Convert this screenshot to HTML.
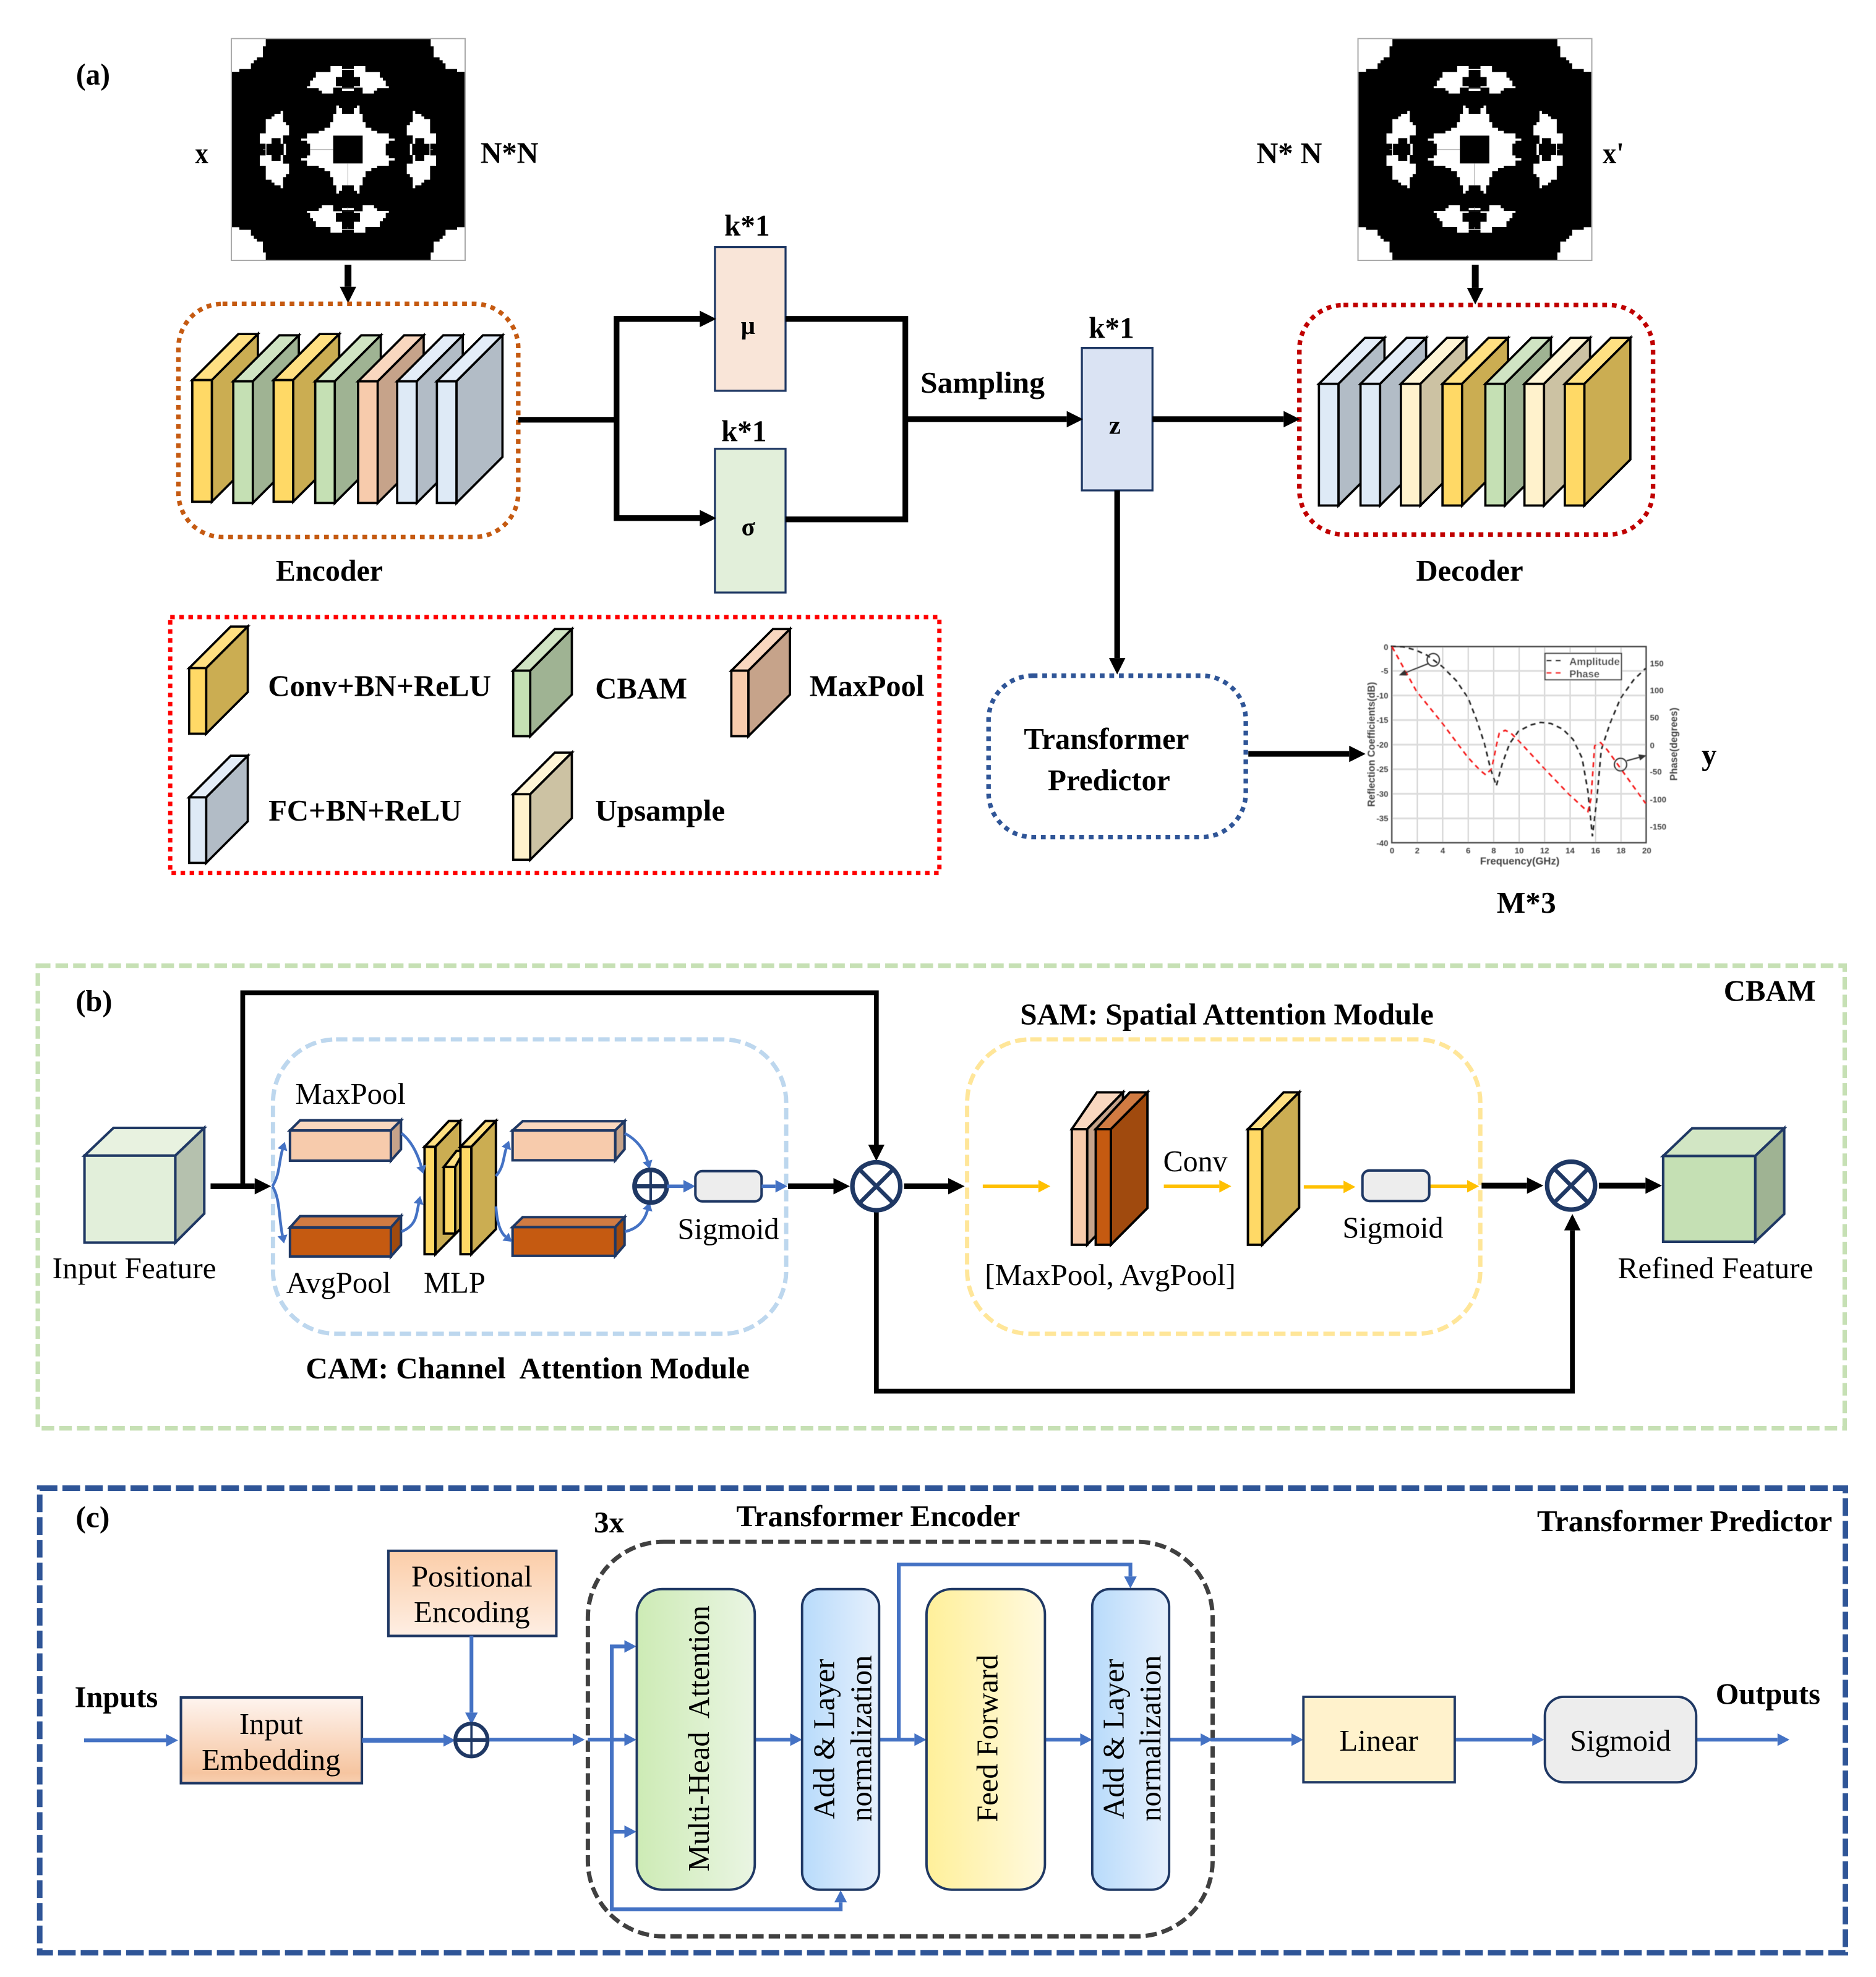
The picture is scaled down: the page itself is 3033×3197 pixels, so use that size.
<!DOCTYPE html>
<html><head><meta charset="utf-8"><style>
html,body{margin:0;padding:0;background:#fff}
svg{display:block}
text{font-family:"Liberation Serif",serif;fill:#000}
.b{font-weight:bold}
.n{font-size:24px}
.bb{font-size:24px;font-weight:bold}
.s{font-family:"Liberation Sans",sans-serif;font-weight:bold;fill:#444;font-size:6.5px}
</style></head><body>
<svg xmlns="http://www.w3.org/2000/svg" width="3033" height="3197" viewBox="0 0 1487.8 1568.25">
<defs>
<filter id="blur" x="-5%" y="-5%" width="110%" height="110%"><feGaussianBlur stdDeviation="0.28"/></filter>
<marker id="k" markerUnits="userSpaceOnUse" markerWidth="16" markerHeight="16" refX="0" refY="8" orient="auto" overflow="visible"><path d="M0,1.5 L13,8 L0,14.5Z" fill="#000"/></marker>
<marker id="h" markerUnits="userSpaceOnUse" markerWidth="12" markerHeight="12" refX="0" refY="6" orient="auto" overflow="visible"><path d="M0,1 L9.5,6 L0,11Z" fill="#4472C4"/></marker>
<marker id="m" markerUnits="userSpaceOnUse" markerWidth="10" markerHeight="10" refX="0" refY="5" orient="auto" overflow="visible"><path d="M0,1 L6.5,5 L0,9Z" fill="#4472C4"/></marker>
<marker id="o" markerUnits="userSpaceOnUse" markerWidth="12" markerHeight="12" refX="0" refY="6" orient="auto" overflow="visible"><path d="M0,1 L9.5,6 L0,11Z" fill="#FFC000"/></marker>
<marker id="t" markerUnits="userSpaceOnUse" markerWidth="8" markerHeight="8" refX="0" refY="4" orient="auto" overflow="visible"><path d="M0,1.5 L6,4 L0,6.5Z" fill="#333"/></marker>
<linearGradient id="gG"><stop offset="0" stop-color="#CDEBB5"/><stop offset="1" stop-color="#EAF5E3"/></linearGradient>
<linearGradient id="gB"><stop offset="0" stop-color="#B8DBFB"/><stop offset="1" stop-color="#E6F0FC"/></linearGradient>
<linearGradient id="gY"><stop offset="0" stop-color="#FFF09A"/><stop offset="1" stop-color="#FFF9DE"/></linearGradient>
<linearGradient id="gP1" x2="0" y2="1"><stop offset="0" stop-color="#FBCDA8"/><stop offset="1" stop-color="#FEEFE4"/></linearGradient>
<linearGradient id="gP2" x2="0" y2="1"><stop offset="0" stop-color="#FEF4EF"/><stop offset="0.88" stop-color="#F6C5A0"/><stop offset="1" stop-color="#F8D0B2"/></linearGradient>
<g id="Y" stroke="#000" stroke-width="1.8"><polygon points="0,0 36.5,-36.5 52,-36.5 15.5,0" fill="#FFE082"/><polygon points="15.5,0 52,-36.5 52,60 15.5,96.5" fill="#CBAD52"/><rect width="15.5" height="96.5" fill="#FFD966"/></g>
<g id="G" stroke="#000" stroke-width="1.8"><polygon points="0,0 36.5,-36.5 52,-36.5 15.5,0" fill="#D0E4C3"/><polygon points="15.5,0 52,-36.5 52,60 15.5,96.5" fill="#9FB393"/><rect width="15.5" height="96.5" fill="#C5E0B4"/></g>
<g id="P" stroke="#000" stroke-width="1.8"><polygon points="0,0 36.5,-36.5 52,-36.5 15.5,0" fill="#F9D7BF"/><polygon points="15.5,0 52,-36.5 52,60 15.5,96.5" fill="#C6A38A"/><rect width="15.5" height="96.5" fill="#F7CBAC"/></g>
<g id="B" stroke="#000" stroke-width="1.8"><polygon points="0,0 36.5,-36.5 52,-36.5 15.5,0" fill="#E4EDF8"/><polygon points="15.5,0 52,-36.5 52,60 15.5,96.5" fill="#B2BCC6"/><rect width="15.5" height="96.5" fill="#DEEAF6"/></g>
<g id="C" stroke="#000" stroke-width="1.8"><polygon points="0,0 36.5,-36.5 52,-36.5 15.5,0" fill="#FFF5D6"/><polygon points="15.5,0 52,-36.5 52,60 15.5,96.5" fill="#CCC2A3"/><rect width="15.5" height="96.5" fill="#FFF2CC"/></g>
<g id="LY" stroke="#000" stroke-width="1.8"><polygon points="0,0 33,-33 46.5,-33 13.5,0" fill="#FFE082"/><polygon points="13.5,0 46.5,-33 46.5,19 13.5,52" fill="#CBAD52"/><rect width="13.5" height="52" fill="#FFD966"/></g>
<g id="LG" stroke="#000" stroke-width="1.8"><polygon points="0,0 33,-33 46.5,-33 13.5,0" fill="#D0E4C3"/><polygon points="13.5,0 46.5,-33 46.5,19 13.5,52" fill="#9FB393"/><rect width="13.5" height="52" fill="#C5E0B4"/></g>
<g id="LP" stroke="#000" stroke-width="1.8"><polygon points="0,0 33,-33 46.5,-33 13.5,0" fill="#F9D7BF"/><polygon points="13.5,0 46.5,-33 46.5,19 13.5,52" fill="#C6A38A"/><rect width="13.5" height="52" fill="#F7CBAC"/></g>
<g id="LB" stroke="#000" stroke-width="1.8"><polygon points="0,0 33,-33 46.5,-33 13.5,0" fill="#E4EDF8"/><polygon points="13.5,0 46.5,-33 46.5,19 13.5,52" fill="#B2BCC6"/><rect width="13.5" height="52" fill="#DEEAF6"/></g>
<g id="LC" stroke="#000" stroke-width="1.8"><polygon points="0,0 33,-33 46.5,-33 13.5,0" fill="#FFF5D6"/><polygon points="13.5,0 46.5,-33 46.5,19 13.5,52" fill="#CCC2A3"/><rect width="13.5" height="52" fill="#FFF2CC"/></g>
<g id="topw"><polygon fill="#fff" points="484,141 540,141 540,155 597,155 597,141 653,141 653,169 723,169 723,197 738,197 738,211 752,211 752,238 767,238 767,247 710,247 710,260 695,260 695,274 640,274 640,245 497,245 497,274 442,274 442,260 427,260 427,247 370,247 370,238 385,238 385,211 399,211 399,197 413,197 413,169 484,169"/><polygon fill="#000" points="540,159 597,159 597,194 627,194 627,238 597,238 597,245 540,245 540,238 510,238 510,194 540,194"/><rect x="540" y="250" width="57" height="11" fill="#fff"/></g>
<g id="sidew"><polygon fill="#fff" points="242,358 254,358 254,412 268,412 268,427 283,427 283,477 254,477 254,518 268,518 268,573 254,573 254,614 283,614 283,664 268,664 268,679 254,679 254,733 242,733 242,719 212,719 212,706 198,706 198,692 170,692 170,624 141,624 141,574 169,574 169,517 141,517 141,467 170,467 170,398 198,398 198,385 212,385 212,372 242,372"/><polygon fill="#000" points="173,518 198,518 198,490 242,490 242,518 257,518 257,573 242,573 242,600 198,600 198,573 173,573"/><rect x="156" y="544" width="14" height="2.5" fill="#999"/></g>
<polygon id="corner" fill="#fff" points="3,7 170,7 170,45 156,45 156,98 127,98 127,112 112,112 112,127 98,127 98,155 42,155 42,168 3,168"/>
<g id="frac">
<rect x="3" y="7" width="1134" height="1076" fill="#000"/>
<use href="#corner"/><use href="#corner" transform="translate(1140,0) scale(-1,1)"/><use href="#corner" transform="translate(0,1090) scale(1,-1)"/><use href="#corner" transform="translate(1140,1090) scale(-1,-1)"/>
<rect x="3" y="7" width="1134" height="1076" fill="none" stroke="#aaa" stroke-width="6"/>
<use href="#topw"/><use href="#topw" transform="translate(0,1090) scale(1,-1)"/>
<rect x="567" y="826" width="3" height="14" fill="#999"/><rect x="567" y="922" width="3" height="14" fill="#999"/>
<use href="#sidew"/><use href="#sidew" transform="translate(1137,0) scale(-1,1)"/>
<polygon fill="#fff" points="597,372 597,345 612,345 612,332 625,332 625,372 640,372 640,412 654,412 654,440 682,440 682,455 710,455 710,467 767,467 767,492 795,492 795,503 767,503 767,517 752,517 752,574 767,574 767,588 795,588 795,599 767,599 767,624 710,624 710,636 682,636 682,651 654,651 654,679 640,679 640,719 625,719 625,759 612,759 612,746 597,746 597,719 540,719 540,746 525,746 525,759 512,759 512,719 497,719 497,679 483,679 483,651 455,651 455,636 427,636 427,624 370,624 370,599 342,599 342,588 370,588 370,574 385,574 385,517 370,517 370,503 342,503 342,492 370,492 370,467 427,467 427,455 455,455 455,440 483,440 483,412 497,412 497,372 512,372 512,332 525,332 525,345 540,345 540,372"/>
<rect x="497" y="478" width="143" height="135" fill="#000"/>
<rect x="385" y="544" width="112" height="3" fill="#999"/><rect x="567" y="613" width="3" height="106" fill="#999"/>
</g>
</defs>

<!-- Panel a -->
<text class="bb" x="60.3" y="67" textLength="27" lengthAdjust="spacingAndGlyphs">(a)</text>
<use href="#frac" transform="translate(182.97,29.43) scale(.16351)"/>
<use href="#frac" transform="translate(1076.5,29.43) scale(.16351)"/>
<text class="bb" x="154.7" y="129.5" textLength="10.5" lengthAdjust="spacingAndGlyphs">x</text>
<text class="bb" x="381" y="129.2" textLength="46" lengthAdjust="spacingAndGlyphs">N*N</text>
<text class="bb" x="996.5" y="129.5" textLength="52" lengthAdjust="spacingAndGlyphs">N* N</text>
<text class="bb" x="1271" y="129.5" textLength="17" lengthAdjust="spacingAndGlyphs">x'</text>
<path d="M276,210V227.5" stroke="#000" stroke-width="5.4" marker-end="url(#k)" fill="none"/>
<path d="M1170,210V228.5" stroke="#000" stroke-width="5.4" marker-end="url(#k)" fill="none"/>

<rect x="141.5" y="241" width="269.5" height="185" rx="35" fill="none" stroke="#C55A11" stroke-width="3.6" stroke-dasharray="3.8 3.8"/>
<rect x="1030.5" y="242" width="280.5" height="182" rx="35" fill="none" stroke="#C00000" stroke-width="3.6" stroke-dasharray="3.8 3.8"/>

<use href="#Y" x="152.5" y="301.5"/><use href="#G" x="185" y="302.5"/><use href="#Y" x="217" y="301.5"/><use href="#G" x="250" y="302.5"/><use href="#P" x="284" y="302.5"/><use href="#B" x="315" y="302.5"/><use href="#B" x="346.5" y="302.5"/>
<use href="#B" x="1046" y="304.5"/><use href="#B" x="1079" y="304.5"/><use href="#C" x="1111" y="304.5"/><use href="#Y" x="1144" y="304.5"/><use href="#G" x="1178" y="304.5"/><use href="#C" x="1209" y="304.5"/><use href="#Y" x="1241" y="304.5"/>

<text class="bb" x="218.7" y="460.5" textLength="85" lengthAdjust="spacingAndGlyphs">Encoder</text>
<text class="bb" x="1123" y="460.5" textLength="85" lengthAdjust="spacingAndGlyphs">Decoder</text>

<rect x="567" y="196" width="56" height="114" fill="#F9E5D8" stroke="#1F3864" stroke-width="1.6"/>
<rect x="567" y="356" width="56" height="114" fill="#E2EFDA" stroke="#1F3864" stroke-width="1.6"/>
<rect x="858" y="276" width="56" height="113" fill="#DAE3F3" stroke="#1F3864" stroke-width="1.6"/>
<text class="bb" x="574.5" y="187" textLength="36" lengthAdjust="spacingAndGlyphs">k*1</text>
<text class="bb" x="572" y="350" textLength="36" lengthAdjust="spacingAndGlyphs">k*1</text>
<text class="bb" x="863.5" y="268" textLength="36" lengthAdjust="spacingAndGlyphs">k*1</text>
<text class="b" style="font-size:20px" x="587.5" y="265">µ</text>
<text class="b" style="font-size:20px" x="588" y="424.5">σ</text>
<text class="b" style="font-size:21px" x="879.5" y="344">z</text>

<g fill="none" stroke="#000" stroke-width="4.5">
<path d="M411,333H489"/>
<path d="M555,253H489V411H555" />
<path d="M623,253H718V412H623"/>
<path d="M718,332.5H846" marker-end="url(#k)"/>
<path d="M914,332.5H1018" marker-end="url(#k)"/>
<path d="M886,389V522" marker-end="url(#k)"/>
<path d="M990,598H1070" marker-end="url(#k)"/>
<path d="M489,253H555" marker-end="url(#k)"/>
<path d="M489,411H555" marker-end="url(#k)"/>
</g>
<text class="bb" x="730" y="311.5" textLength="98.5" lengthAdjust="spacingAndGlyphs">Sampling</text>

<rect x="135" y="489.5" width="610" height="203" fill="none" stroke="#FF0000" stroke-width="3.4" stroke-dasharray="3.6 3.6"/>
<use href="#LY" x="150" y="530"/><use href="#LG" x="407" y="532"/><use href="#LP" x="580" y="532"/><use href="#LB" x="150" y="632.5"/><use href="#LC" x="407" y="630"/>
<text class="bb" x="212.5" y="552" textLength="177" lengthAdjust="spacingAndGlyphs">Conv+BN+ReLU</text>
<text class="bb" x="472" y="554" textLength="73" lengthAdjust="spacingAndGlyphs">CBAM</text>
<text class="bb" x="642" y="552" textLength="91" lengthAdjust="spacingAndGlyphs">MaxPool</text>
<text class="bb" x="213" y="651" textLength="153" lengthAdjust="spacingAndGlyphs">FC+BN+ReLU</text>
<text class="bb" x="472" y="651" textLength="103" lengthAdjust="spacingAndGlyphs">Upsample</text>

<rect x="784" y="536" width="204" height="128" rx="35" fill="none" stroke="#2F5597" stroke-width="3.6" stroke-dasharray="3.8 3.8"/>
<text class="bb" x="812" y="594" textLength="131" lengthAdjust="spacingAndGlyphs">Transformer</text>
<text class="bb" x="831" y="627" textLength="97" lengthAdjust="spacingAndGlyphs">Predictor</text>

<!-- Chart -->
<g filter="url(#blur)">
<g fill="none" stroke="#cfcfcf" stroke-width="0.9">
<path d="M1124,513V668M1144.2,513V668M1164.4,513V668M1184.6,513V668M1204.8,513V668M1225,513V668M1245.2,513V668M1265.4,513V668M1285.6,513V668"/>
<path d="M1104,532.2H1305M1104,551.7H1305M1104,571.2H1305M1104,590.7H1305M1104,610.2H1305M1104,629.7H1305M1104,649.2H1305" stroke="#dcdcdc" stroke-width="1.4"/>
</g>
<rect x="1103.8" y="512.9" width="201.7" height="155.6" fill="none" stroke="#444" stroke-width="1.1"/>
<polyline fill="none" stroke="#222" stroke-width="1.25" stroke-dasharray="4 3.2" points="1103,512.6 1112.8,513.1 1122.2,515.5 1131.5,519.6 1143.7,528.6 1155,540 1164.4,553.9 1171.4,571.9 1177.3,589.9 1182,609.5 1186.7,623.4 1191.3,606.2 1197.2,589.9 1204.2,580.1 1213.6,575.2 1221.8,573 1230,573.9 1239.4,578.4 1247.6,586.6 1254.7,601.3 1259.3,627.5 1262.9,663.4 1266.4,634 1269.9,594.8 1277,573.5 1285.2,553.9 1295.7,539.2 1305.1,530.2"/>
<polyline fill="none" stroke="#F51515" stroke-width="1.25" stroke-dasharray="4 3.2" points="1104,513.1 1123.3,548.2 1143.7,573.5 1163.9,600.5 1173.8,611.1 1178.4,614.7 1183.1,609.5 1186.7,591.5 1189,581.7 1193.7,579.3 1198.4,581.7 1204.2,587.4 1224.6,609.5 1244.1,629.9 1254.7,639.7 1259.3,643.8 1261.7,634 1264.7,591.5 1269.4,589.1 1274.6,594.8 1285.2,609.5 1295.7,624.2 1305.1,637.3"/>
<rect x="1225.3" y="518.3" width="60.6" height="20.9" fill="#fff" stroke="#444" stroke-width="1"/>
<path d="M1226.5,524H1239.4" stroke="#222" stroke-width="1.25" stroke-dasharray="4 3.2"/>
<path d="M1226.5,533.8H1239.4" stroke="#F51515" stroke-width="1.25" stroke-dasharray="4 3.2"/>
<text class="s" style="font-size:8.2px" x="1244.6" y="527.5" textLength="40" lengthAdjust="spacingAndGlyphs">Amplitude</text>
<text class="s" style="font-size:8.2px" x="1244.6" y="537.3" textLength="24" lengthAdjust="spacingAndGlyphs">Phase</text>
<ellipse cx="1136.7" cy="523.4" rx="4.9" ry="5" fill="none" stroke="#333" stroke-width="1"/>
<path d="M1132.5,526.5L1115,533.5" stroke="#333" stroke-width="1" marker-end="url(#t)"/>
<ellipse cx="1285.2" cy="606.5" rx="4.9" ry="5" fill="none" stroke="#333" stroke-width="1"/>
<path d="M1290,603.5L1300,600.8" stroke="#333" stroke-width="1" marker-end="url(#t)"/>
<g text-anchor="end">
<text class="s" x="1101" y="515.5">0</text><text class="s" x="1101" y="534.5">-5</text><text class="s" x="1101" y="554">-10</text><text class="s" x="1101" y="573.5">-15</text><text class="s" x="1101" y="593">-20</text><text class="s" x="1101" y="612.5">-25</text><text class="s" x="1101" y="632">-30</text><text class="s" x="1101" y="651.5">-35</text><text class="s" x="1101" y="671">-40</text>
</g>
<g text-anchor="middle">
<text class="s" x="1104" y="677">0</text><text class="s" x="1124" y="677">2</text><text class="s" x="1144.2" y="677">4</text><text class="s" x="1164.4" y="677">6</text><text class="s" x="1184.6" y="677">8</text><text class="s" x="1204.8" y="677">10</text><text class="s" x="1225" y="677">12</text><text class="s" x="1245.2" y="677">14</text><text class="s" x="1265.4" y="677">16</text><text class="s" x="1285.6" y="677">18</text><text class="s" x="1306" y="677">20</text>
</g>
<text class="s" x="1308.5" y="528.5">150</text><text class="s" x="1308.5" y="550">100</text><text class="s" x="1308.5" y="571.5">50</text><text class="s" x="1308.5" y="593.5">0</text><text class="s" x="1308.5" y="614.5">-50</text><text class="s" x="1308.5" y="636.5">-100</text><text class="s" x="1308.5" y="658">-150</text>
<text class="s" style="font-size:8px" x="1173.8" y="685.8" textLength="63" lengthAdjust="spacingAndGlyphs">Frequency(GHz)</text>
<text class="s" style="font-size:8px" text-anchor="middle" transform="translate(1090.3,590.5) rotate(-90)" textLength="99" lengthAdjust="spacingAndGlyphs">Reflection Coefficients(dB)</text>
<text class="s" style="font-size:8px" text-anchor="middle" transform="translate(1330,590.3) rotate(-90)" textLength="58" lengthAdjust="spacingAndGlyphs">Phase(degrees)</text>
</g>
<text class="bb" x="1349.5" y="606.5">y</text>
<text class="bb" x="1187" y="724" textLength="47" lengthAdjust="spacingAndGlyphs">M*3</text>

<!-- Panel b -->
<rect x="30" y="766" width="1433" height="367" fill="none" stroke="#C6E0B4" stroke-width="3.6" stroke-dasharray="10 4"/>
<text class="bb" x="60" y="802" textLength="29" lengthAdjust="spacingAndGlyphs">(b)</text>
<text class="bb" x="1367" y="794" textLength="73" lengthAdjust="spacingAndGlyphs">CBAM</text>
<rect x="216.5" y="824.5" width="407" height="233.5" rx="50" fill="none" stroke="#BDD7EE" stroke-width="3.4" stroke-dasharray="9 4"/>
<rect x="767" y="824.5" width="407" height="233.5" rx="50" fill="none" stroke="#FFE699" stroke-width="3.4" stroke-dasharray="9 4"/>

<g fill="none" stroke="#000">
<path d="M192.5,941V787.5H695V908" stroke-width="3.8" marker-end="url(#k)"/>
<path d="M167,941H202" stroke-width="4.6" marker-end="url(#k)"/>
<path d="M695,961V1103.5H1247V976" stroke-width="3.8" marker-end="url(#k)"/>
<path d="M625,941H661" stroke-width="4.6" marker-end="url(#k)"/>
<path d="M717,941H752" stroke-width="4.6" marker-end="url(#k)"/>
<path d="M1175,940.5H1211" stroke-width="4.6" marker-end="url(#k)"/>
<path d="M1268,940.5H1305" stroke-width="4.6" marker-end="url(#k)"/>
</g>
<g stroke="#1F3864" stroke-width="2" stroke-linejoin="miter" transform="translate(0,0.7)">
<polygon points="67,916 90,894 162,894 139,916" fill="#E8F2E0"/><polygon points="139,916 162,894 162,962 139,985" fill="#B5C1AE"/><rect x="67" y="916" width="72" height="69" fill="#E2EFDA"/>
<polygon points="230,896 238,888 318,888 310,896" fill="#F9D7BF"/><polygon points="310,896 318,888 318,911 310,920" fill="#C6A38A"/><rect x="230" y="896" width="80" height="24" fill="#F7CBAC"/>
<polygon points="230,973 238,964 318,964 310,973" fill="#D17B42"/><polygon points="310,973 318,964 318,987 310,996" fill="#A04A0E"/><rect x="230" y="973" width="80" height="23" fill="#C55A11"/>
<polygon points="406.5,896 414.5,888.7 495.3,888.7 487.9,896" fill="#F9D7BF"/><polygon points="487.9,896 495.3,888.7 495.3,911 487.9,919.7" fill="#C6A38A"/><rect x="406.5" y="896" width="81.4" height="23.7" fill="#F7CBAC"/>
<polygon points="406.5,972.7 414.5,964.8 495.3,964.8 487.9,972.7" fill="#D17B42"/><polygon points="487.9,972.7 495.3,964.8 495.3,987 487.9,995.5" fill="#A04A0E"/><rect x="406.5" y="972.7" width="81.4" height="22.8" fill="#C55A11"/>
</g>
<g stroke="#1F3864" stroke-width="2">
<polygon points="1319,917 1342,895 1415,895 1392,917" fill="#D2E6C4"/><polygon points="1392,917 1415,895 1415,963 1392,985" fill="#9FB393"/><rect x="1319" y="917" width="73" height="68" fill="#C5E0B4"/>
</g>
<g stroke="#000" stroke-width="1.9">
<polygon points="336.7,909.7 356,889.2 365,889.2 345.3,909.7" fill="#FFE082"/><polygon points="345.3,909.7 365,889.2 365,975 345.3,994.9" fill="#CBAD52"/><rect x="336.7" y="909.7" width="8.6" height="85.2" fill="#FFD966"/>
<polygon points="352,925.7 362,913 368,913 361,925.7" fill="#FFE082"/><rect x="352" y="925.7" width="9" height="52.8" fill="#FFD966"/>
<polygon points="365.2,909.7 385,889.2 393.3,889.2 373.8,909.7" fill="#FFE082"/><polygon points="373.8,909.7 393.3,889.2 393.3,975 373.8,994.9" fill="#CBAD52"/><rect x="365.2" y="909.7" width="8.6" height="85.2" fill="#FFD966"/>
</g>
<g fill="none" stroke="#4472C4" stroke-width="2.2">
<path d="M216,941C222,932 221,922 224,912" marker-end="url(#m)"/>
<path d="M216,941C222,950 221,965 224,980" marker-end="url(#m)"/>
<path d="M318.5,899C326,905 331,915 334,925" marker-end="url(#m)"/>
<path d="M318.5,977C330,972 330,965 332,955" marker-end="url(#m)"/>
<path d="M393.3,933C400,925 399,918 401.5,911" marker-end="url(#m)"/>
<path d="M393.3,957C394,968 396,977 401,981" marker-end="url(#m)"/>
<path d="M495.5,899C505,904 511,912 513.5,921" marker-end="url(#m)"/>
<path d="M495.5,977C505,975 511,969 513.5,960" marker-end="url(#m)"/>
</g>
<ellipse cx="516" cy="941" rx="12.8" ry="13" fill="#fff" stroke="#1F3864" stroke-width="3.6"/>
<path d="M503,941H529" stroke="#1F3864" stroke-width="3.2"/><path d="M516,928V954" stroke="#1F3864" stroke-width="2"/>
<path d="M529,941H542" stroke="#4472C4" stroke-width="2.8" marker-end="url(#h)"/>
<rect x="551.5" y="929" width="52.5" height="24" rx="5.5" fill="#EDEDED" stroke="#1F3864" stroke-width="2"/>
<path d="M604,941H615" stroke="#4472C4" stroke-width="2.8" marker-end="url(#h)"/>

<text class="n" x="234.2" y="875.6" textLength="87.5" lengthAdjust="spacingAndGlyphs">MaxPool</text>
<text class="n" x="227" y="1025.4" textLength="83" lengthAdjust="spacingAndGlyphs">AvgPool</text>
<text class="n" x="336" y="1025.4" textLength="49" lengthAdjust="spacingAndGlyphs">MLP</text>
<text class="n" x="537.4" y="982.7" textLength="80.5" lengthAdjust="spacingAndGlyphs">Sigmoid</text>
<text class="n" x="41.5" y="1014" textLength="130" lengthAdjust="spacingAndGlyphs">Input Feature</text>
<text class="n" x="1283" y="1014" textLength="155" lengthAdjust="spacingAndGlyphs">Refined Feature</text>
<text class="bb" x="242.5" y="1093.3" textLength="352" lengthAdjust="spacingAndGlyphs" xml:space="preserve">CAM: Channel  Attention Module</text>
<text class="bb" x="809" y="812.5" textLength="328" lengthAdjust="spacingAndGlyphs">SAM: Spatial Attention Module</text>

<g stroke="#000" stroke-width="1.9">
<polygon points="850,895.7 870,866.5 890.6,866.5 862.2,895.7" fill="#F9D7BF"/><polygon points="862.2,895.7 890.6,866.5 890.6,958 862.2,987.4" fill="#C6A38A"/><rect x="850" y="895.7" width="12.2" height="91.7" fill="#F7CBAC"/>
<polygon points="869,895.7 896,866.5 910,866.5 881,895.7" fill="#D17B42"/><polygon points="881,895.7 910,866.5 910,958.3 881,987.4" fill="#A04A0E"/><rect x="869" y="895.7" width="12" height="91.7" fill="#C55A11"/>
<polygon points="989.7,895.7 1018,866.5 1030.3,866.5 1001,895.7" fill="#FFE082"/><polygon points="1001,895.7 1030.3,866.5 1030.3,958 1001,987.4" fill="#CBAD52"/><rect x="989.7" y="895.7" width="11.3" height="91.7" fill="#FFD966"/>
</g>
<g fill="none" stroke="#FFC000" stroke-width="2.8">
<path d="M779.4,941H823.5" marker-end="url(#o)"/>
<path d="M923,941H967" marker-end="url(#o)"/>
<path d="M1034,941.5H1065.5" marker-end="url(#o)"/>
<path d="M1133,941H1163.5" marker-end="url(#o)"/>
</g>
<rect x="1080.5" y="928.5" width="53" height="24.2" rx="5.5" fill="#EDEDED" stroke="#1F3864" stroke-width="2"/>
<text class="n" x="922.5" y="929" textLength="51" lengthAdjust="spacingAndGlyphs">Conv</text>
<text class="n" x="1064.7" y="981.7" textLength="80" lengthAdjust="spacingAndGlyphs">Sigmoid</text>
<text class="n" x="781" y="1019.3" textLength="199" lengthAdjust="spacingAndGlyphs">[MaxPool, AvgPool]</text>

<g fill="#fff" stroke="#1F3864" stroke-width="3.6">
<circle cx="695" cy="941" r="19"/><path d="M681.5,927.5L708.5,954.5M708.5,927.5L681.5,954.5" stroke-width="3.2"/>
<circle cx="1246" cy="940.5" r="19"/><path d="M1232.5,927L1259.5,954M1259.5,927L1232.5,954" stroke-width="3.2"/>
</g>

<!-- Panel c -->
<rect x="31.5" y="1180.5" width="1432" height="368.5" fill="none" stroke="#2F5597" stroke-width="4.4" stroke-dasharray="14 4"/>
<text class="bb" x="60" y="1211.5" textLength="27" lengthAdjust="spacingAndGlyphs">(c)</text>
<text class="bb" x="1219" y="1214.5" textLength="234" lengthAdjust="spacingAndGlyphs">Transformer Predictor</text>
<text class="bb" x="471" y="1215.5" textLength="24" lengthAdjust="spacingAndGlyphs">3x</text>
<text class="bb" x="584" y="1210.7" textLength="225" lengthAdjust="spacingAndGlyphs">Transformer Encoder</text>

<g transform="translate(0.2,1)">
<text class="bb" x="59" y="1353.2" textLength="66" lengthAdjust="spacingAndGlyphs">Inputs</text>
<text class="bb" x="1360.4" y="1350.8" textLength="83" lengthAdjust="spacingAndGlyphs">Outputs</text>

<rect x="466" y="1222" width="495.5" height="313" rx="60" fill="none" stroke="#404040" stroke-width="3.4" stroke-dasharray="9 4"/>

<rect x="307.8" y="1229.2" width="133.2" height="67.5" fill="url(#gP1)" stroke="#1F3864" stroke-width="2"/>
<rect x="143.3" y="1345.5" width="143.5" height="68" fill="url(#gP2)" stroke="#1F3864" stroke-width="2"/>
<text class="n" x="326" y="1257.4" textLength="96" lengthAdjust="spacingAndGlyphs">Positional</text>
<text class="n" x="328" y="1285.8" textLength="92" lengthAdjust="spacingAndGlyphs">Encoding</text>
<text class="n" x="189.6" y="1374.4" textLength="50.5" lengthAdjust="spacingAndGlyphs">Input</text>
<text class="n" x="159.8" y="1403" textLength="110" lengthAdjust="spacingAndGlyphs">Embedding</text>

<g fill="none" stroke="#4472C4" stroke-width="3">
<path d="M66.5,1379.5H131.5" marker-end="url(#h)"/>
<path d="M287,1379.5H351.5" stroke-width="3.8" marker-end="url(#h)"/>
<path d="M373.7,1296.5V1357.5" marker-end="url(#h)"/>
<path d="M388,1379H454" marker-end="url(#h)"/>
<path d="M466,1379H495" marker-end="url(#h)"/>
<path d="M485,1379V1305H495" marker-end="url(#h)"/>
<path d="M485,1379V1452H495" marker-end="url(#h)"/>
<path d="M485,1452V1513.5H666.5V1508" marker-end="url(#h)"/>
<path d="M598.4,1379H626.5" marker-end="url(#h)"/>
<path d="M697,1379H725" marker-end="url(#h)"/>
<path d="M712.6,1379V1240H896.3V1249.5" marker-end="url(#h)"/>
<path d="M828.5,1379H856.5" marker-end="url(#h)"/>
<path d="M927,1379H952" marker-end="url(#h)"/>
<path d="M960,1379H1024" marker-end="url(#h)"/>
<path d="M1153.4,1379H1215" marker-end="url(#h)"/>
<path d="M1344.4,1379H1409.5" marker-end="url(#h)"/>
</g>
<ellipse cx="373.7" cy="1379.3" rx="12.8" ry="13" fill="#fff" stroke="#1F3864" stroke-width="3"/>
<path d="M361,1379.3H386.5" stroke="#1F3864" stroke-width="3"/><path d="M373.7,1366.5V1392" stroke="#1F3864" stroke-width="1.8"/>

<rect x="504.8" y="1259.5" width="93.6" height="238.5" rx="20" fill="url(#gG)" stroke="#1F3864" stroke-width="1.9"/>
<rect x="635.9" y="1259.5" width="61.1" height="238.5" rx="14" fill="url(#gB)" stroke="#1F3864" stroke-width="1.9"/>
<rect x="734.6" y="1259.5" width="93.9" height="238.5" rx="20" fill="url(#gY)" stroke="#1F3864" stroke-width="1.9"/>
<rect x="866" y="1259.5" width="61" height="238.5" rx="14" fill="url(#gB)" stroke="#1F3864" stroke-width="1.9"/>
<rect x="1033.5" y="1345" width="120" height="67.8" fill="#FFF2CC" stroke="#1F3864" stroke-width="1.9"/>
<rect x="1225" y="1345" width="120" height="67.8" rx="15" fill="#EDEDED" stroke="#1F3864" stroke-width="1.9"/>
<text class="n" x="1062" y="1387.6" textLength="62.5" lengthAdjust="spacingAndGlyphs">Linear</text>
<text class="n" x="1244.9" y="1387.6" textLength="80" lengthAdjust="spacingAndGlyphs">Sigmoid</text>

<g text-anchor="middle">
<text class="n" transform="translate(562,1378) rotate(-90)" textLength="211" lengthAdjust="spacingAndGlyphs" xml:space="preserve">Multi-Head  Attention</text>
<text class="n" transform="translate(661.4,1378.5) rotate(-90)" textLength="127" lengthAdjust="spacingAndGlyphs">Add &amp; Layer</text>
<text class="n" transform="translate(690.6,1378) rotate(-90)" textLength="132" lengthAdjust="spacingAndGlyphs">normalization</text>
<text class="n" transform="translate(790.7,1378) rotate(-90)" textLength="133" lengthAdjust="spacingAndGlyphs">Feed Forward</text>
<text class="n" transform="translate(890.8,1378.5) rotate(-90)" textLength="127" lengthAdjust="spacingAndGlyphs">Add &amp; Layer</text>
<text class="n" transform="translate(920,1378) rotate(-90)" textLength="132" lengthAdjust="spacingAndGlyphs">normalization</text>
</g>
</g>
</svg>
</body></html>
